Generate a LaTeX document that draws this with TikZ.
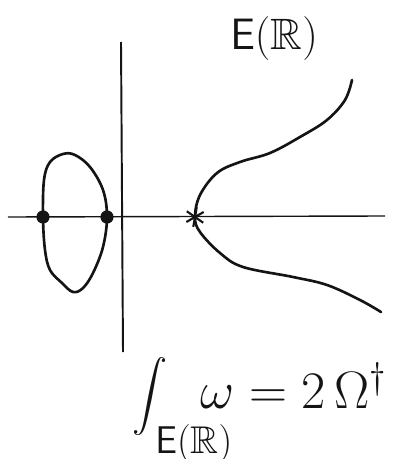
\documentclass[tikz,border=0pt]{standalone}
\usepackage{fix-cm}
\usepackage{amsmath,amssymb}
\usepackage{tikz}
\usetikzlibrary{positioning}
\definecolor{Ink}{RGB}{20,20,20}
\tikzset{
	curve/.style={draw=Ink,line width=1.5pt,line cap=round,line join=round},
	axisline/.style={draw=Ink,line width=0.8pt},
	rootdot/.style={circle,fill=Ink,inner sep=0pt,minimum size=7.5pt},
	mathtext/.style={inner sep=0pt,text=Ink}
}

\begin{document}
\begin{tikzpicture}[x=0.02cm,y=-0.02cm]
				
				\useasboundingbox (0,0) rectangle (406,459);
				
				% axes
				\coordinate (XL) at (8,217);
				\coordinate (XR) at (385,216);
				\coordinate (YT) at (121,42);
				\coordinate (YB) at (123,352);
				\draw[axisline] (XL) -- (XR);
				\draw[axisline,line width=1.1pt] (YT) -- (YB);
				
				% the oval
				\draw[curve] plot[smooth cycle,tension=0.6] coordinates {
					(63,154) (75,155) (90,167) (103,190) (107,217) (103,247)
					(93,273) (83,288) (73,292) (62,283) (50,270) (45,250)
					(43,217) (44,180) (50,162)};
				
				% the unbounded branch
				\draw[curve] plot[smooth,tension=0.6] coordinates {
					(352,80) (345,100) (327,120) (300,137) (270,153) (240,162)
					(217,173) (200,195) (195,217) (200,232) (220,253) (243,267)
					(293,277) (327,285) (360,300) (381,312)};
				
				\node[rootdot] (P1) at (43,217) {};
				\node[rootdot] (P2) at (107,217) {};
				
				\node[inner sep=0pt] (O) at (195,217) {};
				\foreach \a in {35,100,150}
				\draw[Ink,line width=1.2pt] (O) ++(\a:10) -- ++(\a+180:20);
				
				\node[
				mathtext,
				font=\fontsize{25}{30}\selectfont,
				anchor=base west
				]
				(ER)
				at (230,50)
				{$\mathsf{E}(\mathbb{R})$};
				
				% the integral
				\node[
				mathtext,
				font=\fontsize{20}{24}\selectfont
				]
				(INT)
				at (150,397)
				{$\displaystyle\int$};
				
				\node[
				mathtext,
				font=\fontsize{22}{26}\selectfont,
				anchor=base west
				]
				(SUB)
				at (155,453)
				{$\mathsf{E}(\mathbb{R})$};
				
				\node[
				mathtext,
				font=\fontsize{30}{36}\selectfont,
				anchor=base west
				]
				(RHS)
				at (200,408)
				{$\omega = 2\,\Omega^{\dagger}$};
				
			\end{tikzpicture}
\end{document}
